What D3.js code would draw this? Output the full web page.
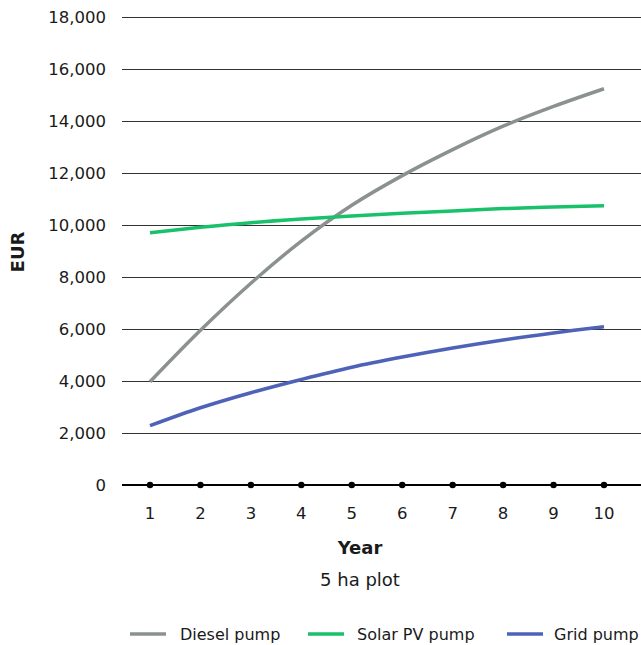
<!DOCTYPE html>
<html><head><meta charset="utf-8">
<script src="https://cdn.jsdelivr.net/npm/d3@7"></script>
<style>
body{margin:0;background:#fff;}
text{font-family:"DejaVu Sans",sans-serif;fill:#1a1a1a;}
</style></head>
<body><svg id="c" width="641" height="645"></svg>
<script>
const years = [1,2,3,4,5,6,7,8,9,10];
const yTicks = [0,2000,4000,6000,8000,10000,12000,14000,16000,18000];
const dieselPump = [3970,5950,7760,9380,10760,11900,12900,13800,14560,15240];
const solarPump  = [9700,9910,10090,10230,10350,10450,10540,10630,10690,10740];
const gridPump   = [2280,2970,3550,4060,4530,4920,5270,5580,5850,6090];
const seriesNames = ["Diesel pump","Solar PV pump","Grid pump"];
const seriesColors = ["#8a9190","#19c16b","#4e62b8"];

const svg = d3.select("#c");
const x = d3.scaleLinear().domain([1,10]).range([150,604]);
const y = d3.scaleLinear().domain([0,18000]).range([485,17]);
const fmt = d3.format(",");

svg.append("g").selectAll("line").data(yTicks.filter(d=>d>0)).join("line")
  .attr("x1",122).attr("x2",641)
  .attr("y1",d=>Math.round(y(d))+0.5).attr("y2",d=>Math.round(y(d))+0.5)
  .attr("stroke","#333").attr("stroke-width",1);

svg.append("g").selectAll("text").data(yTicks).join("text")
  .attr("x",106).attr("y",d=>y(d)).attr("dy","0.36em")
  .attr("text-anchor","end").attr("font-size",16.5).text(d=>fmt(d));

svg.append("line").attr("x1",122).attr("x2",641).attr("y1",y(0)).attr("y2",y(0))
  .attr("stroke","#000").attr("stroke-width",2);
svg.append("g").selectAll("circle").data(years).join("circle")
  .attr("cx",d=>x(d)).attr("cy",y(0)).attr("r",3.2).attr("fill","#000");
svg.append("g").selectAll("text").data(years).join("text")
  .attr("x",d=>x(d)).attr("y",513).attr("dy","0.36em")
  .attr("text-anchor","middle").attr("font-size",16.5).text(d=>d);

const line = d3.line().x((d,i)=>x(years[i])).y(d=>y(d)).curve(d3.curveCatmullRom);
[dieselPump, solarPump, gridPump].forEach((s,i)=>{
  svg.append("path").attr("d",line(s)).attr("fill","none")
    .attr("stroke",seriesColors[i]).attr("stroke-width",3.5);
});

svg.append("text").attr("x",360).attr("y",548).attr("dy","0.36em")
  .attr("text-anchor","middle").attr("font-weight","bold").attr("font-size",18).text("Year");
svg.append("text").attr("x",360).attr("y",580).attr("dy","0.36em")
  .attr("text-anchor","middle").attr("font-size",18).text("5 ha plot");
svg.append("text").attr("transform","translate(18,252) rotate(-90)").attr("dy","0.36em")
  .attr("text-anchor","middle").attr("font-weight","bold").attr("font-size",18).text("EUR");

const legX = [130,308,507];
const leg = svg.append("g").selectAll("g").data(seriesNames).join("g")
  .attr("transform",(d,i)=>`translate(${legX[i]},634)`);
leg.append("line").attr("x1",0).attr("x2",36).attr("stroke",(d,i)=>seriesColors[i]).attr("stroke-width",3.5);
leg.append("text").attr("x",(d,i)=>[50,49,47][i]).attr("dy","0.36em").attr("font-size",16).text(d=>d);
</script></body></html>
